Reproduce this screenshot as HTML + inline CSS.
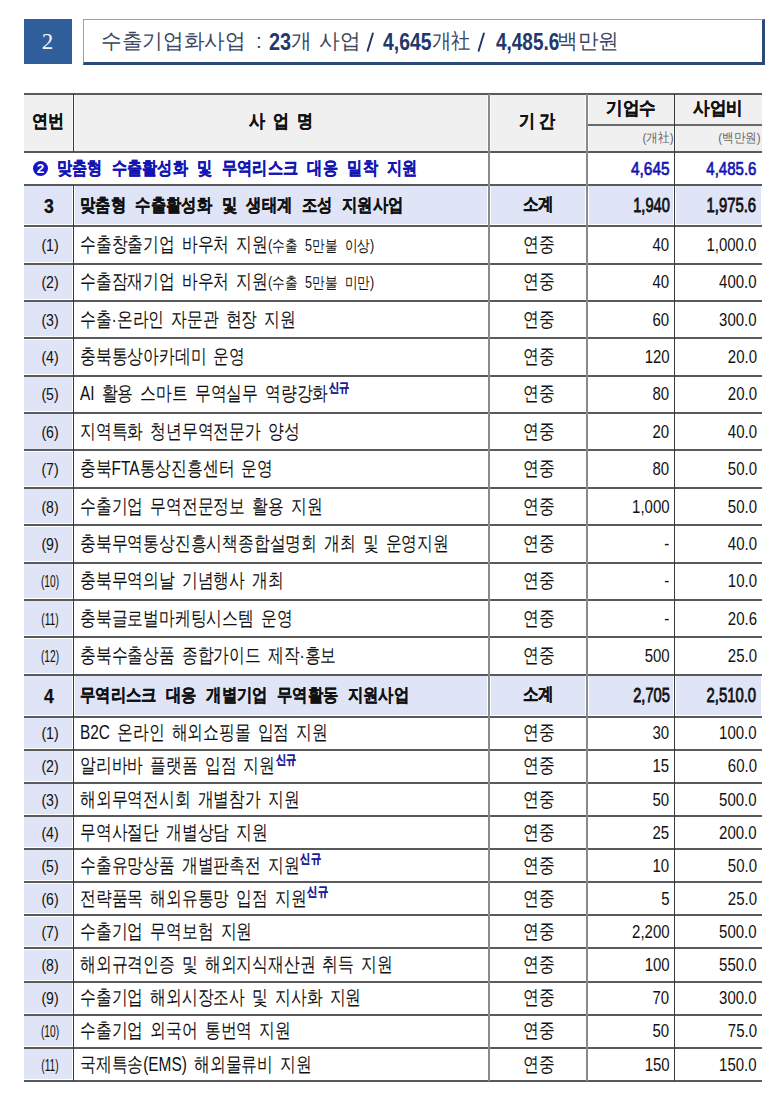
<!DOCTYPE html>
<html><head><meta charset="utf-8"><style>
html,body{margin:0;padding:0;background:#fff;}
body{width:780px;height:1096px;position:relative;overflow:hidden;font-family:"Liberation Sans",sans-serif;color:#111;}
.b{position:absolute;}
.t{position:absolute;white-space:nowrap;}
.bd{font-weight:bold;-webkit-text-stroke:0.25px currentColor;}
.circ{position:absolute;width:15.5px;height:15.5px;border-radius:50%;background:#1414c8;color:#fff;font-weight:bold;font-size:13.5px;line-height:16px;text-align:center;}
sup{font-size:13px;font-weight:bold;-webkit-text-stroke:0.2px currentColor;color:#1c1c98;vertical-align:0;position:relative;top:-8.5px;margin-left:1px;}
#num{position:absolute;left:24px;top:19px;width:48px;height:45px;background:#2f5e9b;color:#f4f4f4;font-family:"Liberation Serif",serif;font-size:23px;line-height:46px;text-align:center;text-indent:-1px;}
#ttl{position:absolute;left:83px;top:19px;width:679px;height:44px;border-top:1px solid #a0a0a0;border-left:1px solid #a0a0a0;border-right:3px solid #2b4a78;border-bottom:3px solid #2b4a78;box-sizing:border-box;width:682px;height:46px;}
</style></head><body>
<div id="num">2</div>
<div id="ttl"></div>
<div class="t" style="left:100.5px;top:19px;height:44px;line-height:44px;font-size:21px;color:#3b4660;transform:scaleX(0.984);transform-origin:0 50%;">수출기업화사업</div>
<div class="t" style="left:255.5px;top:19px;height:44px;line-height:44px;font-size:21px;color:#3b4660;transform:scaleX(0.984);transform-origin:0 50%;">:</div>
<div class="t" style="left:268.6px;top:19.5px;height:44px;line-height:44px;font-size:24.5px;color:#3b4660;transform:scaleX(0.81);transform-origin:0 50%;font-weight:bold;color:#23386a;">23</div>
<div class="t" style="left:291.0px;top:19px;height:44px;line-height:44px;font-size:21px;color:#3b4660;transform:scaleX(0.984);transform-origin:0 50%;">개</div>
<div class="t" style="left:318.5px;top:19px;height:44px;line-height:44px;font-size:21px;color:#3b4660;transform:scaleX(0.984);transform-origin:0 50%;">사업</div>
<svg class="b" style="left:360px;top:28px" width="20" height="28"><line x1="12.9" y1="5.4" x2="7.6" y2="22.9" stroke="#23386a" stroke-width="1.9" stroke-linecap="round"/></svg>
<div class="t" style="left:383.4px;top:19.5px;height:44px;line-height:44px;font-size:24.5px;color:#3b4660;transform:scaleX(0.79);transform-origin:0 50%;font-weight:bold;color:#23386a;">4,645</div>
<div class="t" style="left:432.0px;top:19px;height:44px;line-height:44px;font-size:21px;color:#3b4660;transform:scaleX(0.92);transform-origin:0 50%;">개社</div>
<svg class="b" style="left:471px;top:28px" width="20" height="28"><line x1="12.9" y1="5.4" x2="7.6" y2="22.9" stroke="#23386a" stroke-width="1.9" stroke-linecap="round"/></svg>
<div class="t" style="left:495.5px;top:19.5px;height:44px;line-height:44px;font-size:24.5px;color:#3b4660;transform:scaleX(0.774);transform-origin:0 50%;font-weight:bold;color:#23386a;">4,485.6</div>
<div class="t" style="left:557.0px;top:19px;height:44px;line-height:44px;font-size:21px;color:#3b4660;transform:scaleX(0.984);transform-origin:0 50%;">백만원</div>
<div class="b" style="left:24.0px;top:94.5px;width:737.5px;height:56.0px;background:#f0f0f0"></div>
<div class="b" style="left:71.9px;top:93.5px;width:3.2px;height:58.0px;background:#fafafa"></div>
<div class="b" style="left:487.4px;top:93.5px;width:3.2px;height:58.0px;background:#fafafa"></div>
<div class="b" style="left:585.4px;top:93.5px;width:3.2px;height:58.0px;background:#fafafa"></div>
<div class="b" style="left:672.9px;top:125.0px;width:3.2px;height:26.5px;background:#fafafa"></div>
<div class="b" style="left:24.0px;top:186.1px;width:47.9px;height:38.3px;background:#dfe4f6"></div>
<div class="b" style="left:75.1px;top:186.1px;width:412.3px;height:38.3px;background:#dfe4f6"></div>
<div class="b" style="left:490.6px;top:186.1px;width:94.8px;height:38.3px;background:#dfe4f6"></div>
<div class="b" style="left:588.6px;top:186.1px;width:84.3px;height:38.3px;background:#dfe4f6"></div>
<div class="b" style="left:676.1px;top:186.1px;width:85.4px;height:38.3px;background:#dfe4f6"></div>
<div class="b" style="left:24.0px;top:675.9px;width:47.9px;height:38.8px;background:#dfe4f6"></div>
<div class="b" style="left:75.1px;top:675.9px;width:412.3px;height:38.8px;background:#dfe4f6"></div>
<div class="b" style="left:490.6px;top:675.9px;width:94.8px;height:38.8px;background:#dfe4f6"></div>
<div class="b" style="left:588.6px;top:675.9px;width:84.3px;height:38.8px;background:#dfe4f6"></div>
<div class="b" style="left:676.1px;top:675.9px;width:85.4px;height:38.8px;background:#dfe4f6"></div>
<div class="b" style="left:24.0px;top:227.6px;width:47.9px;height:34.2px;background:#dfe4f6"></div>
<div class="b" style="left:24.0px;top:265.0px;width:47.9px;height:34.2px;background:#dfe4f6"></div>
<div class="b" style="left:24.0px;top:302.3px;width:47.9px;height:34.2px;background:#dfe4f6"></div>
<div class="b" style="left:24.0px;top:339.7px;width:47.9px;height:34.2px;background:#dfe4f6"></div>
<div class="b" style="left:24.0px;top:377.0px;width:47.9px;height:34.2px;background:#dfe4f6"></div>
<div class="b" style="left:24.0px;top:414.4px;width:47.9px;height:34.2px;background:#dfe4f6"></div>
<div class="b" style="left:24.0px;top:451.8px;width:47.9px;height:34.2px;background:#dfe4f6"></div>
<div class="b" style="left:24.0px;top:489.1px;width:47.9px;height:34.2px;background:#dfe4f6"></div>
<div class="b" style="left:24.0px;top:526.5px;width:47.9px;height:34.2px;background:#dfe4f6"></div>
<div class="b" style="left:24.0px;top:563.8px;width:47.9px;height:34.2px;background:#dfe4f6"></div>
<div class="b" style="left:24.0px;top:601.2px;width:47.9px;height:34.2px;background:#dfe4f6"></div>
<div class="b" style="left:24.0px;top:638.5px;width:47.9px;height:34.2px;background:#dfe4f6"></div>
<div class="b" style="left:24.0px;top:717.9px;width:47.9px;height:29.9px;background:#dfe4f6"></div>
<div class="b" style="left:24.0px;top:751.0px;width:47.9px;height:29.9px;background:#dfe4f6"></div>
<div class="b" style="left:24.0px;top:784.1px;width:47.9px;height:29.9px;background:#dfe4f6"></div>
<div class="b" style="left:24.0px;top:817.3px;width:47.9px;height:29.9px;background:#dfe4f6"></div>
<div class="b" style="left:24.0px;top:850.4px;width:47.9px;height:29.9px;background:#dfe4f6"></div>
<div class="b" style="left:24.0px;top:883.5px;width:47.9px;height:29.9px;background:#dfe4f6"></div>
<div class="b" style="left:24.0px;top:916.6px;width:47.9px;height:29.9px;background:#dfe4f6"></div>
<div class="b" style="left:24.0px;top:949.7px;width:47.9px;height:29.9px;background:#dfe4f6"></div>
<div class="b" style="left:24.0px;top:982.8px;width:47.9px;height:29.9px;background:#dfe4f6"></div>
<div class="b" style="left:24.0px;top:1016.0px;width:47.9px;height:29.9px;background:#dfe4f6"></div>
<div class="b" style="left:24.0px;top:1049.1px;width:47.9px;height:29.9px;background:#dfe4f6"></div>
<div class="b" style="left:24.0px;top:93px;width:737.5px;height:2px;background:#5a5a5a"></div>
<div class="b" style="left:24.0px;top:151px;width:737.5px;height:2px;background:#5a5a5a"></div>
<div class="b" style="left:24.0px;top:184px;width:737.5px;height:2px;background:#5a5a5a"></div>
<div class="b" style="left:24.0px;top:225px;width:737.5px;height:2px;background:#5a5a5a"></div>
<div class="b" style="left:24.0px;top:716px;width:737.5px;height:2px;background:#5a5a5a"></div>
<div class="b" style="left:24.0px;top:263px;width:737.5px;height:2px;background:#5a5a5a"></div>
<div class="b" style="left:24.0px;top:300px;width:737.5px;height:2px;background:#5a5a5a"></div>
<div class="b" style="left:24.0px;top:337px;width:737.5px;height:2px;background:#5a5a5a"></div>
<div class="b" style="left:24.0px;top:375px;width:737.5px;height:2px;background:#5a5a5a"></div>
<div class="b" style="left:24.0px;top:412px;width:737.5px;height:2px;background:#5a5a5a"></div>
<div class="b" style="left:24.0px;top:449px;width:737.5px;height:2px;background:#5a5a5a"></div>
<div class="b" style="left:24.0px;top:487px;width:737.5px;height:2px;background:#5a5a5a"></div>
<div class="b" style="left:24.0px;top:524px;width:737.5px;height:2px;background:#5a5a5a"></div>
<div class="b" style="left:24.0px;top:562px;width:737.5px;height:2px;background:#5a5a5a"></div>
<div class="b" style="left:24.0px;top:599px;width:737.5px;height:2px;background:#5a5a5a"></div>
<div class="b" style="left:24.0px;top:636px;width:737.5px;height:2px;background:#5a5a5a"></div>
<div class="b" style="left:24.0px;top:674px;width:737.5px;height:2px;background:#5a5a5a"></div>
<div class="b" style="left:24.0px;top:749px;width:737.5px;height:2px;background:#5a5a5a"></div>
<div class="b" style="left:24.0px;top:782px;width:737.5px;height:2px;background:#5a5a5a"></div>
<div class="b" style="left:24.0px;top:815px;width:737.5px;height:2px;background:#5a5a5a"></div>
<div class="b" style="left:24.0px;top:848px;width:737.5px;height:2px;background:#5a5a5a"></div>
<div class="b" style="left:24.0px;top:881px;width:737.5px;height:2px;background:#5a5a5a"></div>
<div class="b" style="left:24.0px;top:914px;width:737.5px;height:2px;background:#5a5a5a"></div>
<div class="b" style="left:24.0px;top:947px;width:737.5px;height:2px;background:#5a5a5a"></div>
<div class="b" style="left:24.0px;top:981px;width:737.5px;height:2px;background:#5a5a5a"></div>
<div class="b" style="left:24.0px;top:1014px;width:737.5px;height:2px;background:#5a5a5a"></div>
<div class="b" style="left:24.0px;top:1047px;width:737.5px;height:2px;background:#5a5a5a"></div>
<div class="b" style="left:24.0px;top:1080px;width:737.5px;height:2px;background:#5a5a5a"></div>
<div class="b" style="left:587.0px;top:124px;width:174.5px;height:1.5px;background:#6a6a6a"></div>
<div class="b" style="left:72.80px;top:93.5px;width:1.4px;height:58.0px;background:#3a3a3a"></div>
<div class="b" style="left:72.80px;top:184.5px;width:1.4px;height:896.1px;background:#3a3a3a"></div>
<div class="b" style="left:488.10px;top:93.5px;width:1.8px;height:987.1px;background:#888a90"></div>
<div class="b" style="left:586.10px;top:93.5px;width:1.8px;height:987.1px;background:#888a90"></div>
<div class="b" style="left:673.75px;top:93.5px;width:1.5px;height:987.1px;background:#3a3a3a"></div>
<div class="t bd" style="left:-251.6px;width:600px;text-align:center;transform-origin:50% 50%;top:92.0px;height:58.0px;line-height:58.0px;font-size:18px;transform:scaleX(0.89);">연번</div>
<div class="t bd" style="left:-19.2px;width:600px;text-align:center;transform-origin:50% 50%;top:91.7px;height:58.0px;line-height:58.0px;font-size:18px;transform:scaleX(0.89);word-spacing:3.93px;">사 업 명</div>
<div class="t bd" style="left:237.4px;width:600px;text-align:center;transform-origin:50% 50%;top:92.0px;height:58.0px;line-height:58.0px;font-size:18px;transform:scaleX(0.89);word-spacing:0.56px;">기 간</div>
<div class="t bd" style="left:330.8px;width:600px;text-align:center;transform-origin:50% 50%;top:92.5px;height:31.5px;line-height:31.5px;font-size:18px;transform:scaleX(0.92);">기업수</div>
<div class="t bd" style="left:418.3px;width:600px;text-align:center;transform-origin:50% 50%;top:92.5px;height:31.5px;line-height:31.5px;font-size:18px;transform:scaleX(0.92);">사업비</div>
<div class="t " style="right:106.0px;transform-origin:100% 50%;top:125.0px;height:26.5px;line-height:26.5px;font-size:13px;transform:scaleX(0.9);color:#666;">(개社)</div>
<div class="t " style="right:19.0px;transform-origin:100% 50%;top:125.0px;height:26.5px;line-height:26.5px;font-size:13px;transform:scaleX(0.89);color:#666;">(백만원)</div>
<div class="circ" style="left:32.8px;top:160.5px;">2</div>
<div class="t bd" style="left:57.0px;transform-origin:0 50%;top:151.5px;height:33.0px;line-height:33.0px;font-size:18px;transform:scaleX(0.84);color:#1414b4;word-spacing:6.55px;">맞춤형 수출활성화 및 무역리스크 대응 밀착 지원</div>
<div class="t " style="right:110.5px;transform-origin:100% 50%;top:151.5px;height:33.0px;line-height:33.0px;font-size:19px;transform:scaleX(0.81);color:#1414b4;-webkit-text-stroke:0.7px currentColor;">4,645</div>
<div class="t " style="right:23.5px;transform-origin:100% 50%;top:151.5px;height:33.0px;line-height:33.0px;font-size:19px;transform:scaleX(0.79);color:#1414b4;-webkit-text-stroke:0.7px currentColor;">4,485.6</div>
<div class="t bd" style="left:-250.7px;width:600px;text-align:center;transform-origin:50% 50%;top:185.1px;height:41.5px;line-height:41.5px;font-size:21px;transform:scaleX(0.84);">3</div>
<div class="t bd" style="left:80.0px;transform-origin:0 50%;top:184.5px;height:41.5px;line-height:41.5px;font-size:18px;transform:scaleX(0.85);word-spacing:6.24px;">맞춤형 수출활성화 및 생태계 조성 지원사업</div>
<div class="t bd" style="left:238.1px;width:600px;text-align:center;transform-origin:50% 50%;top:183.5px;height:41.5px;line-height:41.5px;font-size:18px;transform:scaleX(0.86);">소계</div>
<div class="t " style="right:110.5px;transform-origin:100% 50%;top:184.5px;height:41.5px;line-height:41.5px;font-size:19.5px;transform:scaleX(0.75);-webkit-text-stroke:0.8px currentColor;">1,940</div>
<div class="t " style="right:23.5px;transform-origin:100% 50%;top:184.5px;height:41.5px;line-height:41.5px;font-size:19.5px;transform:scaleX(0.762);-webkit-text-stroke:0.8px currentColor;">1,975.6</div>
<div class="t " style="left:-250.4px;width:600px;text-align:center;transform-origin:50% 50%;top:227.0px;height:37.4px;line-height:37.4px;font-size:17px;transform:scaleX(0.83);font-family:"Liberation Serif",serif;color:#222;">(1)</div>
<div class="t " style="left:80.0px;transform-origin:0 50%;top:226.0px;height:37.4px;line-height:37.4px;font-size:19.5px;transform:scaleX(0.79);word-spacing:3.54px;">수출창출기업 바우처 지원<span style="font-size:16px;word-spacing:5px">(수출 5만불 이상)</span></div>
<div class="t " style="left:239.4px;width:600px;text-align:center;transform-origin:50% 50%;top:226.0px;height:37.4px;line-height:37.4px;font-size:19.5px;transform:scaleX(0.79);">연중</div>
<div class="t " style="right:110.5px;transform-origin:100% 50%;top:226.0px;height:37.4px;line-height:37.4px;font-size:19px;transform:scaleX(0.788);">40</div>
<div class="t " style="right:23.5px;transform-origin:100% 50%;top:226.0px;height:37.4px;line-height:37.4px;font-size:19px;transform:scaleX(0.788);">1,000.0</div>
<div class="t " style="left:-250.4px;width:600px;text-align:center;transform-origin:50% 50%;top:264.4px;height:37.4px;line-height:37.4px;font-size:17px;transform:scaleX(0.83);font-family:"Liberation Serif",serif;color:#222;">(2)</div>
<div class="t " style="left:80.0px;transform-origin:0 50%;top:263.4px;height:37.4px;line-height:37.4px;font-size:19.5px;transform:scaleX(0.79);word-spacing:3.54px;">수출잠재기업 바우처 지원<span style="font-size:16px;word-spacing:5px">(수출 5만불 미만)</span></div>
<div class="t " style="left:239.4px;width:600px;text-align:center;transform-origin:50% 50%;top:263.4px;height:37.4px;line-height:37.4px;font-size:19.5px;transform:scaleX(0.79);">연중</div>
<div class="t " style="right:110.5px;transform-origin:100% 50%;top:263.4px;height:37.4px;line-height:37.4px;font-size:19px;transform:scaleX(0.788);">40</div>
<div class="t " style="right:23.5px;transform-origin:100% 50%;top:263.4px;height:37.4px;line-height:37.4px;font-size:19px;transform:scaleX(0.788);">400.0</div>
<div class="t " style="left:-250.4px;width:600px;text-align:center;transform-origin:50% 50%;top:301.7px;height:37.4px;line-height:37.4px;font-size:17px;transform:scaleX(0.83);font-family:"Liberation Serif",serif;color:#222;">(3)</div>
<div class="t " style="left:80.0px;transform-origin:0 50%;top:300.7px;height:37.4px;line-height:37.4px;font-size:19.5px;transform:scaleX(0.79);word-spacing:3.54px;">수출·온라인 자문관 현장 지원</div>
<div class="t " style="left:239.4px;width:600px;text-align:center;transform-origin:50% 50%;top:300.7px;height:37.4px;line-height:37.4px;font-size:19.5px;transform:scaleX(0.79);">연중</div>
<div class="t " style="right:110.5px;transform-origin:100% 50%;top:300.7px;height:37.4px;line-height:37.4px;font-size:19px;transform:scaleX(0.788);">60</div>
<div class="t " style="right:23.5px;transform-origin:100% 50%;top:300.7px;height:37.4px;line-height:37.4px;font-size:19px;transform:scaleX(0.788);">300.0</div>
<div class="t " style="left:-250.4px;width:600px;text-align:center;transform-origin:50% 50%;top:339.1px;height:37.4px;line-height:37.4px;font-size:17px;transform:scaleX(0.83);font-family:"Liberation Serif",serif;color:#222;">(4)</div>
<div class="t " style="left:80.0px;transform-origin:0 50%;top:338.1px;height:37.4px;line-height:37.4px;font-size:19.5px;transform:scaleX(0.79);word-spacing:3.54px;">충북통상아카데미 운영</div>
<div class="t " style="left:239.4px;width:600px;text-align:center;transform-origin:50% 50%;top:338.1px;height:37.4px;line-height:37.4px;font-size:19.5px;transform:scaleX(0.79);">연중</div>
<div class="t " style="right:110.5px;transform-origin:100% 50%;top:338.1px;height:37.4px;line-height:37.4px;font-size:19px;transform:scaleX(0.788);">120</div>
<div class="t " style="right:23.5px;transform-origin:100% 50%;top:338.1px;height:37.4px;line-height:37.4px;font-size:19px;transform:scaleX(0.788);">20.0</div>
<div class="t " style="left:-250.4px;width:600px;text-align:center;transform-origin:50% 50%;top:376.4px;height:37.4px;line-height:37.4px;font-size:17px;transform:scaleX(0.83);font-family:"Liberation Serif",serif;color:#222;">(5)</div>
<div class="t " style="left:80.0px;transform-origin:0 50%;top:375.4px;height:37.4px;line-height:37.4px;font-size:19.5px;transform:scaleX(0.79);word-spacing:3.54px;">AI 활용 스마트 무역실무 역량강화<sup>신규</sup></div>
<div class="t " style="left:239.4px;width:600px;text-align:center;transform-origin:50% 50%;top:375.4px;height:37.4px;line-height:37.4px;font-size:19.5px;transform:scaleX(0.79);">연중</div>
<div class="t " style="right:110.5px;transform-origin:100% 50%;top:375.4px;height:37.4px;line-height:37.4px;font-size:19px;transform:scaleX(0.788);">80</div>
<div class="t " style="right:23.5px;transform-origin:100% 50%;top:375.4px;height:37.4px;line-height:37.4px;font-size:19px;transform:scaleX(0.788);">20.0</div>
<div class="t " style="left:-250.4px;width:600px;text-align:center;transform-origin:50% 50%;top:413.8px;height:37.4px;line-height:37.4px;font-size:17px;transform:scaleX(0.83);font-family:"Liberation Serif",serif;color:#222;">(6)</div>
<div class="t " style="left:80.0px;transform-origin:0 50%;top:412.8px;height:37.4px;line-height:37.4px;font-size:19.5px;transform:scaleX(0.79);word-spacing:3.54px;">지역특화 청년무역전문가 양성</div>
<div class="t " style="left:239.4px;width:600px;text-align:center;transform-origin:50% 50%;top:412.8px;height:37.4px;line-height:37.4px;font-size:19.5px;transform:scaleX(0.79);">연중</div>
<div class="t " style="right:110.5px;transform-origin:100% 50%;top:412.8px;height:37.4px;line-height:37.4px;font-size:19px;transform:scaleX(0.788);">20</div>
<div class="t " style="right:23.5px;transform-origin:100% 50%;top:412.8px;height:37.4px;line-height:37.4px;font-size:19px;transform:scaleX(0.788);">40.0</div>
<div class="t " style="left:-250.4px;width:600px;text-align:center;transform-origin:50% 50%;top:451.1px;height:37.4px;line-height:37.4px;font-size:17px;transform:scaleX(0.83);font-family:"Liberation Serif",serif;color:#222;">(7)</div>
<div class="t " style="left:80.0px;transform-origin:0 50%;top:450.1px;height:37.4px;line-height:37.4px;font-size:19.5px;transform:scaleX(0.79);word-spacing:3.54px;">충북FTA통상진흥센터 운영</div>
<div class="t " style="left:239.4px;width:600px;text-align:center;transform-origin:50% 50%;top:450.1px;height:37.4px;line-height:37.4px;font-size:19.5px;transform:scaleX(0.79);">연중</div>
<div class="t " style="right:110.5px;transform-origin:100% 50%;top:450.1px;height:37.4px;line-height:37.4px;font-size:19px;transform:scaleX(0.788);">80</div>
<div class="t " style="right:23.5px;transform-origin:100% 50%;top:450.1px;height:37.4px;line-height:37.4px;font-size:19px;transform:scaleX(0.788);">50.0</div>
<div class="t " style="left:-250.4px;width:600px;text-align:center;transform-origin:50% 50%;top:488.5px;height:37.4px;line-height:37.4px;font-size:17px;transform:scaleX(0.83);font-family:"Liberation Serif",serif;color:#222;">(8)</div>
<div class="t " style="left:80.0px;transform-origin:0 50%;top:487.5px;height:37.4px;line-height:37.4px;font-size:19.5px;transform:scaleX(0.79);word-spacing:3.54px;">수출기업 무역전문정보 활용 지원</div>
<div class="t " style="left:239.4px;width:600px;text-align:center;transform-origin:50% 50%;top:487.5px;height:37.4px;line-height:37.4px;font-size:19.5px;transform:scaleX(0.79);">연중</div>
<div class="t " style="right:110.5px;transform-origin:100% 50%;top:487.5px;height:37.4px;line-height:37.4px;font-size:19px;transform:scaleX(0.788);">1,000</div>
<div class="t " style="right:23.5px;transform-origin:100% 50%;top:487.5px;height:37.4px;line-height:37.4px;font-size:19px;transform:scaleX(0.788);">50.0</div>
<div class="t " style="left:-250.4px;width:600px;text-align:center;transform-origin:50% 50%;top:525.9px;height:37.4px;line-height:37.4px;font-size:17px;transform:scaleX(0.83);font-family:"Liberation Serif",serif;color:#222;">(9)</div>
<div class="t " style="left:80.0px;transform-origin:0 50%;top:524.9px;height:37.4px;line-height:37.4px;font-size:19.5px;transform:scaleX(0.79);word-spacing:3.54px;">충북무역통상진흥시책종합설명회 개최 및 운영지원</div>
<div class="t " style="left:239.4px;width:600px;text-align:center;transform-origin:50% 50%;top:524.9px;height:37.4px;line-height:37.4px;font-size:19.5px;transform:scaleX(0.79);">연중</div>
<div class="t " style="right:110.5px;transform-origin:100% 50%;top:524.9px;height:37.4px;line-height:37.4px;font-size:19px;transform:scaleX(0.788);">-</div>
<div class="t " style="right:23.5px;transform-origin:100% 50%;top:524.9px;height:37.4px;line-height:37.4px;font-size:19px;transform:scaleX(0.788);">40.0</div>
<div class="t " style="left:-250.4px;width:600px;text-align:center;transform-origin:50% 50%;top:563.2px;height:37.4px;line-height:37.4px;font-size:17px;transform:scaleX(0.6);font-family:"Liberation Serif",serif;color:#222;">(10)</div>
<div class="t " style="left:80.0px;transform-origin:0 50%;top:562.2px;height:37.4px;line-height:37.4px;font-size:19.5px;transform:scaleX(0.79);word-spacing:3.54px;">충북무역의날 기념행사 개최</div>
<div class="t " style="left:239.4px;width:600px;text-align:center;transform-origin:50% 50%;top:562.2px;height:37.4px;line-height:37.4px;font-size:19.5px;transform:scaleX(0.79);">연중</div>
<div class="t " style="right:110.5px;transform-origin:100% 50%;top:562.2px;height:37.4px;line-height:37.4px;font-size:19px;transform:scaleX(0.788);">-</div>
<div class="t " style="right:23.5px;transform-origin:100% 50%;top:562.2px;height:37.4px;line-height:37.4px;font-size:19px;transform:scaleX(0.788);">10.0</div>
<div class="t " style="left:-250.4px;width:600px;text-align:center;transform-origin:50% 50%;top:600.6px;height:37.4px;line-height:37.4px;font-size:17px;transform:scaleX(0.6);font-family:"Liberation Serif",serif;color:#222;">(11)</div>
<div class="t " style="left:80.0px;transform-origin:0 50%;top:599.6px;height:37.4px;line-height:37.4px;font-size:19.5px;transform:scaleX(0.79);word-spacing:3.54px;">충북글로벌마케팅시스템 운영</div>
<div class="t " style="left:239.4px;width:600px;text-align:center;transform-origin:50% 50%;top:599.6px;height:37.4px;line-height:37.4px;font-size:19.5px;transform:scaleX(0.79);">연중</div>
<div class="t " style="right:110.5px;transform-origin:100% 50%;top:599.6px;height:37.4px;line-height:37.4px;font-size:19px;transform:scaleX(0.788);">-</div>
<div class="t " style="right:23.5px;transform-origin:100% 50%;top:599.6px;height:37.4px;line-height:37.4px;font-size:19px;transform:scaleX(0.788);">20.6</div>
<div class="t " style="left:-250.4px;width:600px;text-align:center;transform-origin:50% 50%;top:637.9px;height:37.4px;line-height:37.4px;font-size:17px;transform:scaleX(0.6);font-family:"Liberation Serif",serif;color:#222;">(12)</div>
<div class="t " style="left:80.0px;transform-origin:0 50%;top:636.9px;height:37.4px;line-height:37.4px;font-size:19.5px;transform:scaleX(0.79);word-spacing:3.54px;">충북수출상품 종합가이드 제작·홍보</div>
<div class="t " style="left:239.4px;width:600px;text-align:center;transform-origin:50% 50%;top:636.9px;height:37.4px;line-height:37.4px;font-size:19.5px;transform:scaleX(0.79);">연중</div>
<div class="t " style="right:110.5px;transform-origin:100% 50%;top:636.9px;height:37.4px;line-height:37.4px;font-size:19px;transform:scaleX(0.788);">500</div>
<div class="t " style="right:23.5px;transform-origin:100% 50%;top:636.9px;height:37.4px;line-height:37.4px;font-size:19px;transform:scaleX(0.788);">25.0</div>
<div class="t bd" style="left:-250.7px;width:600px;text-align:center;transform-origin:50% 50%;top:674.9px;height:42.0px;line-height:42.0px;font-size:21px;transform:scaleX(0.84);">4</div>
<div class="t bd" style="left:80.0px;transform-origin:0 50%;top:674.3px;height:42.0px;line-height:42.0px;font-size:18px;transform:scaleX(0.85);word-spacing:6.24px;">무역리스크 대응 개별기업 무역활동 지원사업</div>
<div class="t bd" style="left:238.1px;width:600px;text-align:center;transform-origin:50% 50%;top:673.3px;height:42.0px;line-height:42.0px;font-size:18px;transform:scaleX(0.86);">소계</div>
<div class="t " style="right:110.5px;transform-origin:100% 50%;top:674.3px;height:42.0px;line-height:42.0px;font-size:19.5px;transform:scaleX(0.75);-webkit-text-stroke:0.8px currentColor;">2,705</div>
<div class="t " style="right:23.5px;transform-origin:100% 50%;top:674.3px;height:42.0px;line-height:42.0px;font-size:19.5px;transform:scaleX(0.762);-webkit-text-stroke:0.8px currentColor;">2,510.0</div>
<div class="t " style="left:-250.4px;width:600px;text-align:center;transform-origin:50% 50%;top:717.3px;height:33.1px;line-height:33.1px;font-size:17px;transform:scaleX(0.83);font-family:"Liberation Serif",serif;color:#222;">(1)</div>
<div class="t " style="left:80.0px;transform-origin:0 50%;top:716.3px;height:33.1px;line-height:33.1px;font-size:19.5px;transform:scaleX(0.79);word-spacing:3.54px;">B2C 온라인 해외쇼핑몰 입점 지원</div>
<div class="t " style="left:239.4px;width:600px;text-align:center;transform-origin:50% 50%;top:716.3px;height:33.1px;line-height:33.1px;font-size:19.5px;transform:scaleX(0.79);">연중</div>
<div class="t " style="right:110.5px;transform-origin:100% 50%;top:716.3px;height:33.1px;line-height:33.1px;font-size:19px;transform:scaleX(0.788);">30</div>
<div class="t " style="right:23.5px;transform-origin:100% 50%;top:716.3px;height:33.1px;line-height:33.1px;font-size:19px;transform:scaleX(0.788);">100.0</div>
<div class="t " style="left:-250.4px;width:600px;text-align:center;transform-origin:50% 50%;top:750.4px;height:33.1px;line-height:33.1px;font-size:17px;transform:scaleX(0.83);font-family:"Liberation Serif",serif;color:#222;">(2)</div>
<div class="t " style="left:80.0px;transform-origin:0 50%;top:749.4px;height:33.1px;line-height:33.1px;font-size:19.5px;transform:scaleX(0.79);word-spacing:3.54px;">알리바바 플랫폼 입점 지원<sup>신규</sup></div>
<div class="t " style="left:239.4px;width:600px;text-align:center;transform-origin:50% 50%;top:749.4px;height:33.1px;line-height:33.1px;font-size:19.5px;transform:scaleX(0.79);">연중</div>
<div class="t " style="right:110.5px;transform-origin:100% 50%;top:749.4px;height:33.1px;line-height:33.1px;font-size:19px;transform:scaleX(0.788);">15</div>
<div class="t " style="right:23.5px;transform-origin:100% 50%;top:749.4px;height:33.1px;line-height:33.1px;font-size:19px;transform:scaleX(0.788);">60.0</div>
<div class="t " style="left:-250.4px;width:600px;text-align:center;transform-origin:50% 50%;top:783.5px;height:33.1px;line-height:33.1px;font-size:17px;transform:scaleX(0.83);font-family:"Liberation Serif",serif;color:#222;">(3)</div>
<div class="t " style="left:80.0px;transform-origin:0 50%;top:782.5px;height:33.1px;line-height:33.1px;font-size:19.5px;transform:scaleX(0.79);word-spacing:3.54px;">해외무역전시회 개별참가 지원</div>
<div class="t " style="left:239.4px;width:600px;text-align:center;transform-origin:50% 50%;top:782.5px;height:33.1px;line-height:33.1px;font-size:19.5px;transform:scaleX(0.79);">연중</div>
<div class="t " style="right:110.5px;transform-origin:100% 50%;top:782.5px;height:33.1px;line-height:33.1px;font-size:19px;transform:scaleX(0.788);">50</div>
<div class="t " style="right:23.5px;transform-origin:100% 50%;top:782.5px;height:33.1px;line-height:33.1px;font-size:19px;transform:scaleX(0.788);">500.0</div>
<div class="t " style="left:-250.4px;width:600px;text-align:center;transform-origin:50% 50%;top:816.7px;height:33.1px;line-height:33.1px;font-size:17px;transform:scaleX(0.83);font-family:"Liberation Serif",serif;color:#222;">(4)</div>
<div class="t " style="left:80.0px;transform-origin:0 50%;top:815.7px;height:33.1px;line-height:33.1px;font-size:19.5px;transform:scaleX(0.79);word-spacing:3.54px;">무역사절단 개별상담 지원</div>
<div class="t " style="left:239.4px;width:600px;text-align:center;transform-origin:50% 50%;top:815.7px;height:33.1px;line-height:33.1px;font-size:19.5px;transform:scaleX(0.79);">연중</div>
<div class="t " style="right:110.5px;transform-origin:100% 50%;top:815.7px;height:33.1px;line-height:33.1px;font-size:19px;transform:scaleX(0.788);">25</div>
<div class="t " style="right:23.5px;transform-origin:100% 50%;top:815.7px;height:33.1px;line-height:33.1px;font-size:19px;transform:scaleX(0.788);">200.0</div>
<div class="t " style="left:-250.4px;width:600px;text-align:center;transform-origin:50% 50%;top:849.8px;height:33.1px;line-height:33.1px;font-size:17px;transform:scaleX(0.83);font-family:"Liberation Serif",serif;color:#222;">(5)</div>
<div class="t " style="left:80.0px;transform-origin:0 50%;top:848.8px;height:33.1px;line-height:33.1px;font-size:19.5px;transform:scaleX(0.79);word-spacing:3.54px;">수출유망상품 개별판촉전 지원<sup>신규</sup></div>
<div class="t " style="left:239.4px;width:600px;text-align:center;transform-origin:50% 50%;top:848.8px;height:33.1px;line-height:33.1px;font-size:19.5px;transform:scaleX(0.79);">연중</div>
<div class="t " style="right:110.5px;transform-origin:100% 50%;top:848.8px;height:33.1px;line-height:33.1px;font-size:19px;transform:scaleX(0.788);">10</div>
<div class="t " style="right:23.5px;transform-origin:100% 50%;top:848.8px;height:33.1px;line-height:33.1px;font-size:19px;transform:scaleX(0.788);">50.0</div>
<div class="t " style="left:-250.4px;width:600px;text-align:center;transform-origin:50% 50%;top:882.9px;height:33.1px;line-height:33.1px;font-size:17px;transform:scaleX(0.83);font-family:"Liberation Serif",serif;color:#222;">(6)</div>
<div class="t " style="left:80.0px;transform-origin:0 50%;top:881.9px;height:33.1px;line-height:33.1px;font-size:19.5px;transform:scaleX(0.79);word-spacing:3.54px;">전략품목 해외유통망 입점 지원<sup>신규</sup></div>
<div class="t " style="left:239.4px;width:600px;text-align:center;transform-origin:50% 50%;top:881.9px;height:33.1px;line-height:33.1px;font-size:19.5px;transform:scaleX(0.79);">연중</div>
<div class="t " style="right:110.5px;transform-origin:100% 50%;top:881.9px;height:33.1px;line-height:33.1px;font-size:19px;transform:scaleX(0.788);">5</div>
<div class="t " style="right:23.5px;transform-origin:100% 50%;top:881.9px;height:33.1px;line-height:33.1px;font-size:19px;transform:scaleX(0.788);">25.0</div>
<div class="t " style="left:-250.4px;width:600px;text-align:center;transform-origin:50% 50%;top:916.0px;height:33.1px;line-height:33.1px;font-size:17px;transform:scaleX(0.83);font-family:"Liberation Serif",serif;color:#222;">(7)</div>
<div class="t " style="left:80.0px;transform-origin:0 50%;top:915.0px;height:33.1px;line-height:33.1px;font-size:19.5px;transform:scaleX(0.79);word-spacing:3.54px;">수출기업 무역보험 지원</div>
<div class="t " style="left:239.4px;width:600px;text-align:center;transform-origin:50% 50%;top:915.0px;height:33.1px;line-height:33.1px;font-size:19.5px;transform:scaleX(0.79);">연중</div>
<div class="t " style="right:110.5px;transform-origin:100% 50%;top:915.0px;height:33.1px;line-height:33.1px;font-size:19px;transform:scaleX(0.788);">2,200</div>
<div class="t " style="right:23.5px;transform-origin:100% 50%;top:915.0px;height:33.1px;line-height:33.1px;font-size:19px;transform:scaleX(0.788);">500.0</div>
<div class="t " style="left:-250.4px;width:600px;text-align:center;transform-origin:50% 50%;top:949.1px;height:33.1px;line-height:33.1px;font-size:17px;transform:scaleX(0.83);font-family:"Liberation Serif",serif;color:#222;">(8)</div>
<div class="t " style="left:80.0px;transform-origin:0 50%;top:948.1px;height:33.1px;line-height:33.1px;font-size:19.5px;transform:scaleX(0.79);word-spacing:3.54px;">해외규격인증 및 해외지식재산권 취득 지원</div>
<div class="t " style="left:239.4px;width:600px;text-align:center;transform-origin:50% 50%;top:948.1px;height:33.1px;line-height:33.1px;font-size:19.5px;transform:scaleX(0.79);">연중</div>
<div class="t " style="right:110.5px;transform-origin:100% 50%;top:948.1px;height:33.1px;line-height:33.1px;font-size:19px;transform:scaleX(0.788);">100</div>
<div class="t " style="right:23.5px;transform-origin:100% 50%;top:948.1px;height:33.1px;line-height:33.1px;font-size:19px;transform:scaleX(0.788);">550.0</div>
<div class="t " style="left:-250.4px;width:600px;text-align:center;transform-origin:50% 50%;top:982.2px;height:33.1px;line-height:33.1px;font-size:17px;transform:scaleX(0.83);font-family:"Liberation Serif",serif;color:#222;">(9)</div>
<div class="t " style="left:80.0px;transform-origin:0 50%;top:981.2px;height:33.1px;line-height:33.1px;font-size:19.5px;transform:scaleX(0.79);word-spacing:3.54px;">수출기업 해외시장조사 및 지사화 지원</div>
<div class="t " style="left:239.4px;width:600px;text-align:center;transform-origin:50% 50%;top:981.2px;height:33.1px;line-height:33.1px;font-size:19.5px;transform:scaleX(0.79);">연중</div>
<div class="t " style="right:110.5px;transform-origin:100% 50%;top:981.2px;height:33.1px;line-height:33.1px;font-size:19px;transform:scaleX(0.788);">70</div>
<div class="t " style="right:23.5px;transform-origin:100% 50%;top:981.2px;height:33.1px;line-height:33.1px;font-size:19px;transform:scaleX(0.788);">300.0</div>
<div class="t " style="left:-250.4px;width:600px;text-align:center;transform-origin:50% 50%;top:1015.4px;height:33.1px;line-height:33.1px;font-size:17px;transform:scaleX(0.6);font-family:"Liberation Serif",serif;color:#222;">(10)</div>
<div class="t " style="left:80.0px;transform-origin:0 50%;top:1014.4px;height:33.1px;line-height:33.1px;font-size:19.5px;transform:scaleX(0.79);word-spacing:3.54px;">수출기업 외국어 통번역 지원</div>
<div class="t " style="left:239.4px;width:600px;text-align:center;transform-origin:50% 50%;top:1014.4px;height:33.1px;line-height:33.1px;font-size:19.5px;transform:scaleX(0.79);">연중</div>
<div class="t " style="right:110.5px;transform-origin:100% 50%;top:1014.4px;height:33.1px;line-height:33.1px;font-size:19px;transform:scaleX(0.788);">50</div>
<div class="t " style="right:23.5px;transform-origin:100% 50%;top:1014.4px;height:33.1px;line-height:33.1px;font-size:19px;transform:scaleX(0.788);">75.0</div>
<div class="t " style="left:-250.4px;width:600px;text-align:center;transform-origin:50% 50%;top:1048.5px;height:33.1px;line-height:33.1px;font-size:17px;transform:scaleX(0.6);font-family:"Liberation Serif",serif;color:#222;">(11)</div>
<div class="t " style="left:80.0px;transform-origin:0 50%;top:1047.5px;height:33.1px;line-height:33.1px;font-size:19.5px;transform:scaleX(0.79);word-spacing:3.54px;">국제특송(EMS) 해외물류비 지원</div>
<div class="t " style="left:239.4px;width:600px;text-align:center;transform-origin:50% 50%;top:1047.5px;height:33.1px;line-height:33.1px;font-size:19.5px;transform:scaleX(0.79);">연중</div>
<div class="t " style="right:110.5px;transform-origin:100% 50%;top:1047.5px;height:33.1px;line-height:33.1px;font-size:19px;transform:scaleX(0.788);">150</div>
<div class="t " style="right:23.5px;transform-origin:100% 50%;top:1047.5px;height:33.1px;line-height:33.1px;font-size:19px;transform:scaleX(0.788);">150.0</div>
</body></html>
